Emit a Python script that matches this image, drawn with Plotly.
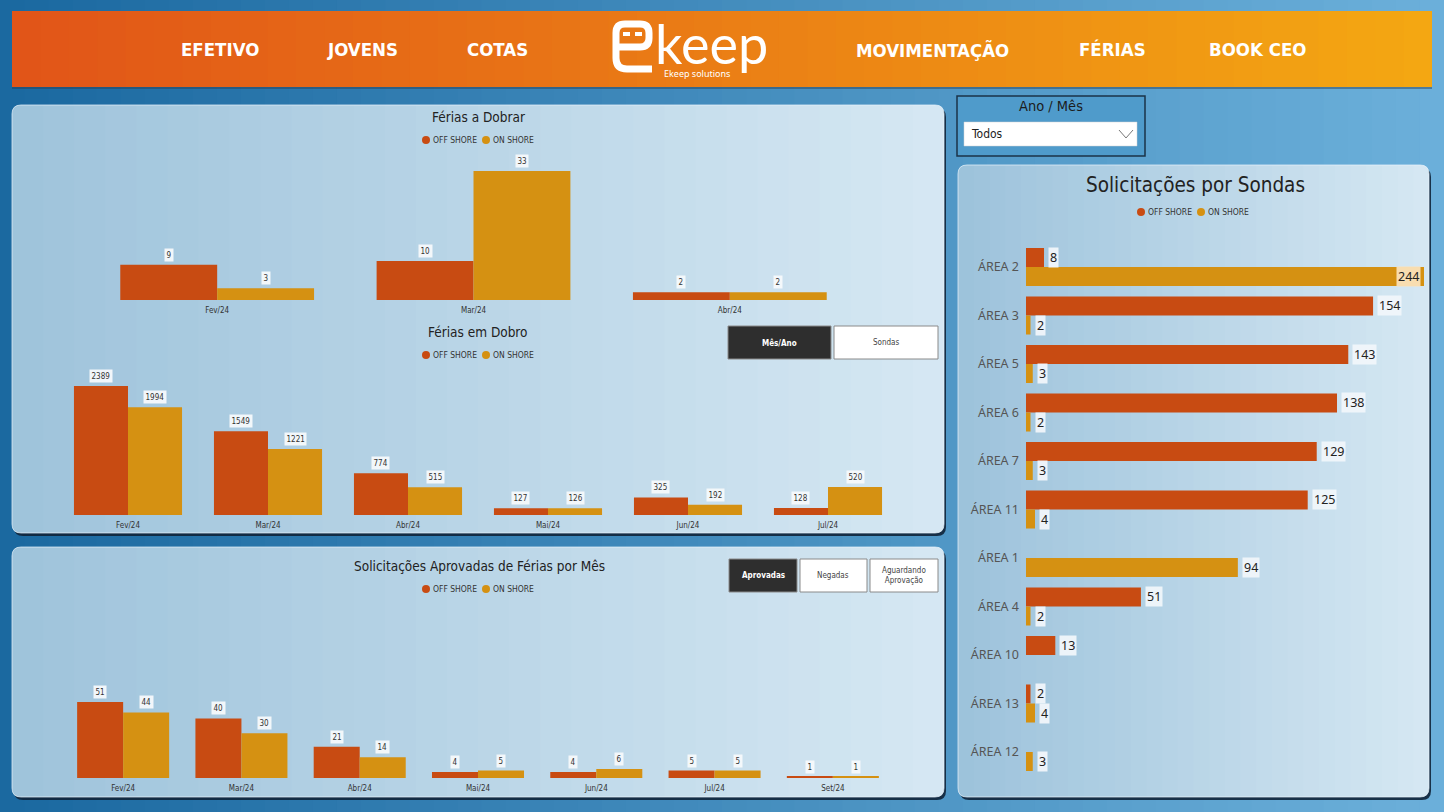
import plotly.graph_objects as go

W, H = 1444, 812

# ---------------- data ----------------
series_names = ["OFF SHORE", "ON SHORE"]

meses_dobrar = ["Fev/24", "Mar/24", "Abr/24"]
dobrar_off = [9, 10, 2]
dobrar_on = [3, 33, 2]

meses_dobro = ["Fev/24", "Mar/24", "Abr/24", "Mai/24", "Jun/24", "Jul/24"]
dobro_off = [2389, 1549, 774, 127, 325, 128]
dobro_on = [1994, 1221, 515, 126, 192, 520]

meses_aprov = ["Fev/24", "Mar/24", "Abr/24", "Mai/24", "Jun/24", "Jul/24", "Set/24"]
aprov_off = [51, 40, 21, 4, 4, 5, 1]
aprov_on = [44, 30, 14, 5, 6, 5, 1]

sondas = ["ÁREA 2", "ÁREA 3", "ÁREA 5", "ÁREA 6", "ÁREA 7", "ÁREA 11",
          "ÁREA 1", "ÁREA 4", "ÁREA 10", "ÁREA 13", "ÁREA 12"]
sondas_off = [8, 154, 143, 138, 129, 125, None, 51, 13, 2, None]
sondas_on = [244, 2, 3, 2, 3, 4, 94, 2, None, 4, 3]

nav_left = ["EFETIVO", "JOVENS", "COTAS"]
nav_right = ["MOVIMENTAÇÃO", "FÉRIAS", "BOOK CEO"]

# ---------------- styling ----------------
OFF = "#C84B12"
ON = "#D59112"
COND = "DejaVu Sans Condensed, Liberation Sans Narrow, sans-serif"
SANS = "Noto Sans, Open Sans, sans-serif"


def px(x):
    return x / W


def py(y):
    return 1 - y / H


def lerp(c1, c2, t):
    return "rgb(%d,%d,%d)" % tuple(round(a + (b - a) * t) for a, b in zip(c1, c2))


shapes = []
annotations = []


def rect(x0, y0, x1, y1, fill, line=None, lw=0, layer="below"):
    shapes.append(dict(type="rect", xref="paper", yref="paper",
                       x0=px(x0), x1=px(x1), y0=py(y1), y1=py(y0),
                       fillcolor=fill, line=dict(width=lw, color=line or fill),
                       layer=layer))


def P(x, y):
    return f"{px(x):.5f},{py(y):.5f}"


def rpath(x0, y0, x1, y1, r, left=True, right=True):
    rl = r if left else 0
    rr = r if right else 0
    d = f"M {P(x0 + rl, y0)} L {P(x1 - rr, y0)} "
    if rr:
        d += f"Q {P(x1, y0)} {P(x1, y0 + rr)} "
    d += f"L {P(x1, y1 - rr)} "
    if rr:
        d += f"Q {P(x1, y1)} {P(x1 - rr, y1)} "
    d += f"L {P(x0 + rl, y1)} "
    if rl:
        d += f"Q {P(x0, y1)} {P(x0, y1 - rl)} "
    d += f"L {P(x0, y0 + rl)} "
    if rl:
        d += f"Q {P(x0, y0)} {P(x0 + rl, y0)} "
    return d + "Z"


def path(d, fill=None, line="rgba(0,0,0,0)", lw=0, layer="below"):
    s = dict(type="path", xref="paper", yref="paper", path=d,
             line=dict(color=line, width=lw), layer=layer)
    if fill:
        s["fillcolor"] = fill
    shapes.append(s)


def text(x, y, t, size, color="#222", family=COND, xanchor="center",
         yanchor="middle", weight=None, **kw):
    f = dict(size=size, color=color, family=family)
    if weight:
        f["weight"] = weight
    annotations.append(dict(x=px(x), y=py(y), xref="paper", yref="paper",
                            text=t, showarrow=False, font=f,
                            xanchor=xanchor, yanchor=yanchor, **kw))


# ---------------- background gradient ----------------
n = 60
for i in range(n):
    x0 = W * i / n
    x1 = W * (i + 1) / n + 1
    rect(x0, 0, x1, H, lerp((26, 104, 160), (108, 176, 218), (i + 0.5) / n))

# header bar
rect(12, 13, 1432, 89, "rgba(40,60,80,0.45)")
n = 50
for i in range(n):
    x0 = 12 + 1420 * i / n
    x1 = 12 + 1420 * (i + 1) / n + (1 if i < n - 1 else 0)
    rect(x0, 11, x1, 87, lerp((225, 84, 24), (244, 168, 18), (i + 0.5) / n))


# panels
def panel(x0, y0, x1, y1, cl, cr, n=30, r=9):
    path(rpath(x0 + 2, y0 + 3, x1 + 2, y1 + 3, r), fill="rgba(16,36,56,0.9)")
    w = (x1 - x0) / n
    for i in range(n):
        sx0 = x0 + i * w
        sx1 = x0 + (i + 1) * w + (1 if i < n - 1 else 0)
        path(rpath(sx0, y0, sx1, y1, r, left=(i == 0), right=(i == n - 1)),
             fill=lerp(cl, cr, (i + 0.5) / n))
    path(rpath(x0, y0, x1, y1, r), line="rgba(235,245,252,0.7)", lw=1)


panel(12, 105, 944, 533, (158, 195, 219), (214, 232, 243))
panel(12, 547, 944, 797, (158, 195, 219), (214, 232, 243))
panel(958, 165, 1429, 797, (156, 194, 219), (214, 232, 243))

# ---------------- header content ----------------
for t, cx in zip(nav_left + nav_right, [220, 362, 497, 932, 1112, 1257]):
    text(cx, 50, t, 18.5, color="white", weight="bold")

# logo: robot "e" + "keep"
path("M " + P(652, 69) + " L " + P(627, 69) + " Q " + P(616, 69) + " " + P(616, 58)
     + " L " + P(616, 33) + " Q " + P(616, 24) + " " + P(625, 24)
     + " L " + P(640, 24) + " Q " + P(649, 24) + " " + P(649, 33)
     + " L " + P(649, 38) + " Q " + P(649, 47) + " " + P(640, 47)
     + " L " + P(616, 47), line="white", lw=7, layer="above")
rect(623, 32, 630, 36, "white", layer="above")
rect(635, 32, 642, 36, "white", layer="above")
text(653, 43, "keep", 54, color="white", family="Lato, sans-serif",
     xanchor="left")
text(697, 73, "Ekeep solutions", 9, color="white", family=SANS)

# ---------------- slicer ----------------
rect(957, 96, 1145, 156, "#4f9bcb", line="#1b3348", lw=1.5)
text(1051, 106, "Ano / Mês", 14.5, color="#1c1c1c")
rect(964, 122, 1137, 146, "white", line="#d0d0d0", lw=0.5)
text(969, 134, "Todos", 12, color="#222", xanchor="left")
path("M " + P(1119, 130) + " L " + P(1126, 138) + " L " + P(1133, 130),
     line="#777", lw=1)

# ---------------- buttons ----------------
def button(x0, y0, x1, y1, label, active):
    rect(x0, y0, x1, y1, "#2e2e2e" if active else "white", line="#8a8a8a", lw=1)
    text((x0 + x1) / 2, (y0 + y1) / 2, label, 8,
         color="white" if active else "#444", weight="bold" if active else None)


button(728, 326, 831, 359, "Mês/Ano", True)
button(834, 326, 938, 359, "Sondas", False)
button(729, 559, 797, 592, "Aprovadas", True)
button(800, 559, 867, 592, "Negadas", False)
button(870, 559, 938, 592, "Aguardando<br>Aprovação", False)


# ---------------- legends ----------------
def legend(x, y, size=8.5):
    shapes.append(dict(type="circle", xref="paper", yref="paper",
                       x0=px(x), x1=px(x + 8), y0=py(y + 4), y1=py(y - 4),
                       fillcolor=OFF, line=dict(width=0), layer="above"))
    text(x + 9, y, series_names[0], size, color="#333", xanchor="left")
    shapes.append(dict(type="circle", xref="paper", yref="paper",
                       x0=px(x + 60), x1=px(x + 68), y0=py(y + 4), y1=py(y - 4),
                       fillcolor=ON, line=dict(width=0), layer="above"))
    text(x + 69, y, series_names[1], size, color="#333", xanchor="left")


legend(422, 140)
legend(422, 355)
legend(422, 589)
legend(1137, 212)

# titles
text(478, 117, "Férias a Dobrar", 13.5)
text(478, 332, "Férias em Dobro", 13.5)
text(479, 566, "Solicitações Aprovadas de Férias por Mês", 13.5)
text(1195, 185, "Solicitações por Sondas", 20.5)

# ---------------- charts ----------------
fig = go.Figure()


def vbars(cats, off, on, xa, ya, w):
    for vals, col, off_ in ((off, OFF, -w), (on, ON, 0)):
        fig.add_trace(go.Bar(x=cats, y=vals, width=w, offset=off_,
                             marker=dict(color=col, line=dict(width=0)),
                             xaxis=xa, yaxis=ya, showlegend=False,
                             hoverinfo="skip"))
    for i, (a, b) in enumerate(zip(off, on)):
        for v, dx in ((a, -w / 2), (b, w / 2)):
            annotations.append(dict(x=i + dx, y=v, xref=xa, yref=ya,
                                    text=str(v), showarrow=False, yshift=10,
                                    font=dict(size=8, color="#333", family=COND),
                                    bgcolor="rgba(246,249,251,0.95)",
                                    borderpad=1.5))


vbars(meses_dobrar, dobrar_off, dobrar_on, "x", "y", 0.378)
vbars(meses_dobro, dobro_off, dobro_on, "x2", "y2", 0.386)
vbars(meses_aprov, aprov_off, aprov_on, "x3", "y3", 0.389)

# horizontal chart
XMAX4 = 176.6
wh = 0.392
for vals, col, off_ in ((sondas_off, OFF, -wh), (sondas_on, ON, 0)):
    fig.add_trace(go.Bar(y=sondas, x=vals, orientation="h", width=wh, offset=off_,
                         marker=dict(color=col, line=dict(width=0)),
                         xaxis="x4", yaxis="y4", showlegend=False,
                         hoverinfo="skip"))
for i, (a, b) in enumerate(zip(sondas_off, sondas_on)):
    for v, dy in ((a, -wh / 2), (b, wh / 2)):
        if v is None:
            continue
        clipped = v > XMAX4
        annotations.append(dict(x=min(v, XMAX4), y=i + dy, xref="x4", yref="y4",
                                text=str(v), showarrow=False,
                                xanchor="right" if clipped else "left",
                                xshift=-3 if clipped else 4,
                                font=dict(size=12.5, color="#222", family=SANS),
                                bgcolor="rgba(250,226,185,0.95)" if clipped
                                else "rgba(240,246,250,0.95)",
                                borderpad=1))

cat_axis = dict(type="category", showgrid=False, zeroline=False, showline=False,
                ticks="", ticklabelstandoff=4,
                tickfont=dict(size=8, color="#333", family=COND),
                fixedrange=True)
val_axis = dict(visible=False, fixedrange=True)

fig.update_layout(
    width=W, height=H,
    margin=dict(l=0, r=0, t=0, b=0),
    paper_bgcolor="#1e6ea3",
    plot_bgcolor="rgba(0,0,0,0)",
    barmode="overlay",
    hovermode=False,
    shapes=shapes,
    annotations=annotations,
    xaxis=dict(cat_axis, domain=[px(89), px(858)], range=[-0.5, 2.5], anchor="y"),
    yaxis=dict(val_axis, domain=[py(300), py(171)], range=[0, 33], anchor="x"),
    xaxis2=dict(cat_axis, domain=[px(58), px(898)], range=[-0.5, 5.5], anchor="y2"),
    yaxis2=dict(val_axis, domain=[py(515), py(386)], range=[0, 2389], anchor="x2"),
    xaxis3=dict(cat_axis, domain=[px(64), px(892)], range=[-0.5, 6.5], anchor="y3"),
    yaxis3=dict(val_axis, domain=[py(778), py(702)], range=[0, 51], anchor="x3"),
    xaxis4=dict(val_axis, domain=[px(1026), px(1424)], range=[0, XMAX4], anchor="y4"),
    yaxis4=dict(type="category", domain=[py(776.25), py(242.75)],
                range=[10.5, -0.5], anchor="x4", showgrid=False, zeroline=False,
                showline=False, ticks="", ticklabelstandoff=6,
                tickfont=dict(size=12.5, color="#555", family=SANS),
                fixedrange=True),
)

fig.write_html("out.html", config={"displayModeBar": False},
               post_script="document.body.style.margin='0';document.body.style.overflow='hidden';")
